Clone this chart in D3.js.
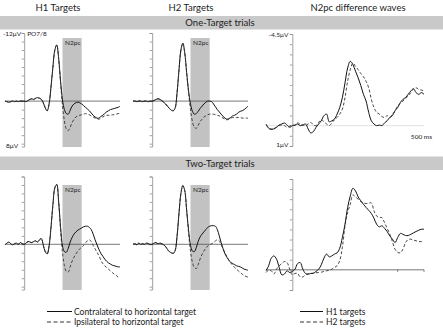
<!DOCTYPE html>
<html><head><meta charset="utf-8">
<script src="https://cdn.jsdelivr.net/npm/d3@7"></script>
<style>body{margin:0;background:#fff} svg{display:block}</style>
</head><body><svg id="c" width="443" height="333"></svg>
<script>
// ---------------- data ----------------
const columnTitles = ["H1 Targets", "H2 Targets", "N2pc difference waves"];
const rowTitles = ["One-Target trials", "Two-Target trials"];
const windowLabel = "N2pc";
const windowMs = [200, 300];
const timeDomain = [-100, 500];
// sample times (ms), 10 ms apart
const times = [-100,-90,-80,-70,-60,-50,-40,-30,-20,-10,0,10,20,30,40,50,60,70,80,90,100,110,120,130,140,150,160,170,180,190,200,210,220,230,240,250,260,270,280,290,300,310,320,330,340,350,360,370,380,390,400,410,420,430,440,450,460,470,480,490,500];

// ERP (µV, negative up) - One-Target trials
const h1OneContra = [0.0,0.1,0.2,0.1,0.0,0.1,0.0,0.1,0.0,0.0,0.0, 0.1,-0.1,-0.3,-0.4,-0.3,-0.5,-0.6,-0.5,-0.3,0.3, 1.2,1.7,0.5,-2.5,-6.0,-9.0,-9.9,-7.5,-3.5,-0.2, 1.5,2.2,2.3,1.6,0.9,0.5,0.3,0.2,0.3,0.5, 0.8,1.1,1.4,1.7,2.1,2.5,2.8,3.0,3.0,2.7, 2.5,2.2,1.9,1.7,1.5,1.4,1.3,1.2,1.1,0.9];
const h1OneIpsi   = [0.0,0.1,0.2,0.1,0.0,0.1,0.0,0.1,0.0,0.0,0.0, 0.1,-0.1,-0.3,-0.4,-0.3,-0.5,-0.6,-0.5,-0.3,0.3, 1.2,1.7,0.5,-2.5,-6.0,-9.0,-9.9,-7.5,-3.2,0.8, 3.5,4.9,5.2,4.6,3.8,3.2,2.8,2.6,2.5,2.4, 2.3,2.2,2.3,2.4,2.6,2.8,3.0,3.1,3.2,3.0, 2.8,2.6,2.5,2.5,2.5,2.4,2.4,2.3,2.2,2.2];
const h2OneContra = [0.0,0.0,0.1,0.0,0.0,0.1,0.0,0.0,0.1,0.0,0.0, -0.1,-0.3,-0.4,-0.3,-0.1,0.2,0.5,0.9,1.3,1.6, 1.7,1.2,-1.5,-5.5,-9.0,-10.2,-8.5,-5.0,-1.8,0.5, 1.8,2.3,2.2,1.8,1.3,0.9,0.5,0.2,0.0,0.0, 0.1,0.5,1.0,1.5,1.9,2.3,2.7,3.0,3.2,3.1, 2.9,2.6,2.5,2.3,2.0,1.8,1.7,1.5,1.2,0.9];
const h2OneIpsi   = [0.0,0.0,0.1,0.0,0.0,0.1,0.0,0.0,0.1,0.0,0.0, -0.1,-0.3,-0.4,-0.3,-0.1,0.2,0.5,0.9,1.3,1.6, 1.7,1.2,-1.5,-5.5,-9.0,-10.2,-8.5,-5.0,-1.5,1.5, 3.6,4.6,4.8,4.3,3.6,3.2,2.8,2.6,2.4,2.3, 2.3,2.3,2.4,2.5,2.6,2.8,3.0,3.2,3.3,3.2, 3.0,2.9,2.9,2.9,2.9,2.9,3.0,3.0,3.0,3.0];
// ERP - Two-Target trials
const h1TwoContra = [0.1,-0.2,-0.4,-0.1,0.1,-0.1,-0.2,0.0,-0.3,-0.1,0.0, -0.2,-0.5,-0.4,-0.3,-0.5,-0.6,-0.4,-0.8,-1.0,0.2, 1.3,1.7,0.3,-3.0,-7.0,-10.0,-10.6,-7.5,-3.0,0.3, 1.3,1.4,0.7,-0.4,-1.2,-1.8,-2.2,-2.5,-2.7,-2.9, -3.1,-3.2,-3.2,-3.0,-2.6,-1.8,-0.8,0.1,0.9,1.6, 2.1,2.6,3.0,3.3,3.5,3.7,3.8,3.9,4.0,4.0];
const h1TwoIpsi   = [0.1,-0.2,-0.4,-0.1,0.1,-0.1,-0.2,0.0,-0.3,-0.1,0.0, -0.2,-0.5,-0.4,-0.3,-0.5,-0.6,-0.4,-0.8,-1.0,0.2, 1.3,1.7,0.3,-3.0,-7.0,-10.0,-10.6,-7.5,-2.5,1.5, 3.8,4.8,4.9,4.0,3.0,2.3,1.7,1.2,0.8,0.5, 0.2,-0.3,-0.6,-0.8,-0.5,0.2,0.8,1.4,2.0,2.8, 3.4,3.8,4.1,4.4,4.7,5.0,5.3,5.5,5.8,5.9];
const h2TwoContra = [0.0,-0.1,0.1,-0.2,0.0,-0.1,0.0,-0.2,-0.1,0.0,0.0, -0.2,-0.3,-0.1,-0.2,-0.1,0.1,0.4,0.9,1.3,1.5, 1.6,1.1,-1.5,-5.5,-9.0,-10.4,-9.5,-6.0,-2.5,0.2, 1.2,1.3,0.6,-0.5,-1.3,-1.8,-2.2,-2.6,-3.0,-3.2, -3.3,-3.3,-3.2,-2.6,-1.5,-0.3,0.8,1.7,2.3,2.8, 3.2,3.4,3.6,3.8,3.9,4.0,4.2,4.4,4.5,4.6];
const h2TwoIpsi   = [0.0,-0.1,0.1,-0.2,0.0,-0.1,0.0,-0.2,-0.1,0.0,0.0, -0.2,-0.3,-0.1,-0.2,-0.1,0.1,0.4,0.9,1.3,1.5, 1.6,1.1,-1.5,-5.5,-9.0,-10.4,-9.5,-6.0,-2.0,1.2, 3.2,4.1,4.3,3.6,2.6,1.8,1.2,0.7,0.3,0.1, -0.1,-0.3,-0.6,-0.8,-0.6,0.1,0.8,1.5,2.2,2.8, 3.3,3.7,4.1,4.4,4.7,5.0,5.3,5.5,5.7,5.8];
// N2pc difference waves (µV)
const diffH1One = [-0.08,0.13,0.19,0.16,0.08,-0.03,-0.08,-0.13,-0.03,0.08,0.0, -0.03,-0.08,0.0,-0.03,-0.08,0.16,0.36,0.29,0.08,-0.08, -0.24,-0.49,-0.57,-0.19,-0.24,-0.32,-0.57,-0.89,-1.38,-2.1, -2.83,-3.16,-3.0,-2.67,-2.35,-1.97,-1.54,-1.21,-0.65,-0.24, -0.08,0.0,-0.03,0.0,-0.13,-0.24,-0.4,-0.49,-0.73,-0.89, -1.13,-1.29,-1.38,-1.54,-1.7,-1.81,-1.62,-1.54,-1.62,-1.54];
const diffH2One = [-0.03,0.08,0.16,0.13,0.08,0.0,-0.03,0.0,0.08,0.03,-0.03, 0.0,-0.13,-0.08,-0.03,0.0,-0.08,-0.16,-0.03,0.0,-0.16, -0.29,-0.19,-0.08,0.0,-0.13,-0.29,-0.4,-0.57,-0.81,-1.38, -2.18,-2.75,-3.07,-2.91,-2.75,-2.56,-2.4,-2.18,-1.86,-1.29, -0.89,-0.65,-0.57,-0.45,-0.4,-0.49,-0.4,-0.57,-0.73,-0.97, -1.1,-1.21,-1.33,-1.46,-1.62,-1.81,-1.86,-1.78,-1.75,-1.7];
const diffH1Two = [0.05,-0.2,-0.58,-0.69,-0.53,-0.12,0.25,0.21,0.05,0.13,0.08, -0.03,-0.31,-0.36,-0.03,0.18,0.21,0.18,0.17,0.08,-0.03, -0.25,-0.58,-0.78,-0.64,-0.69,-0.78,-0.84,-1.07,-1.6,-2.26, -3.09,-3.66,-4.04,-3.91,-3.61,-3.42,-3.25,-3.09,-2.95,-2.79, -2.56,-2.26,-2.13,-2.18,-2.06,-1.9,-1.68,-1.52,-1.35,-1.6, -1.8,-1.76,-1.7,-1.7,-1.76,-1.83,-1.9,-1.96,-2.01,-2.01];
const diffH2Two = [0.13,0.02,0.05,0.21,-0.03,-0.2,-0.31,-0.41,-0.36,-0.03,0.25, 0.18,0.18,0.35,0.35,0.25,0.21,0.18,0.17,0.15,0.13, 0.12,0.08,0.05,0.02,-0.03,-0.12,-0.2,-0.45,-1.11,-2.18, -2.84,-3.25,-3.71,-3.61,-3.5,-3.38,-3.32,-3.28,-3.3,-3.32, -2.92,-2.67,-2.59,-2.59,-2.34,-2.06,-1.77,-1.4,-1.02,-0.87, -0.84,-1.02,-1.35,-1.5,-1.52,-1.47,-1.44,-1.4,-1.4,-1.4];

const erpDomain = [-12, 8];
const erpTicks = [-12,-10.5,-9,-7.5,-6,-4.5,-3,-1.5,0,1.5,3,4.5,6,7.5];
const erpLabels = ["-12\u03bcV", "8\u03bcV"];
const diffDomain = [-4.5, 1];
const diffTicks = [-4.5,-4,-3.5,-3,-2.5,-2,-1.5,-1,-0.5,0,0.5,1];
const diffLabels = ["-4.5\u03bcV", "1\u03bcV"];
const electrodeLabel = "PO7/8";
const timeLabel = "500 ms";
const timeTicks = [400, 500];
const legendLeft = ["Contralateral to horizontal target", "Ipsilateral to horizontal target"];
const legendRight = ["H1 targets", "H2 targets"];

// ---------------- drawing ----------------
const svg = d3.select("#c");
const FONT = "Lato, 'Open Sans', sans-serif";
const INK = "#222";
const DASH = "3,2";

const erpCols = [[5, 120], [133, 248]];
const diffCol = [266, 424];
const rows = [
  { band: [16, 29.5], erp: [33, 146.5], box: [38, 147], diff: [34, 146], diffAxisColor: "#dcdcdc" },
  { band: [156.5, 170], erp: [176.5, 289.5], box: [185, 290], diff: [179, 290], diffAxisColor: "#555" }
];
const erpSets = [[h1OneContra, h1OneIpsi, h2OneContra, h2OneIpsi], [h1TwoContra, h1TwoIpsi, h2TwoContra, h2TwoIpsi]];
const diffSets = [[diffH1One, diffH2One], [diffH1Two, diffH2Two]];

// column titles
const titleX = [58, 191, 358];
columnTitles.forEach((t, i) => {
  svg.append("text").attr("x", titleX[i]).attr("y", 10.5).attr("text-anchor", "middle")
    .attr("font-family", FONT).attr("font-size", 9.5).attr("fill", INK).text(t);
});

function yAxis(g, x, y, ticks) {
  const ax = d3.axisLeft(y).tickValues(ticks).tickSize(2.5).tickFormat("");
  const a = g.append("g").attr("transform", `translate(${x},0)`).call(ax);
  a.select(".domain").attr("stroke", "#8a8a8a").attr("stroke-width", 0.8);
  a.selectAll(".tick line").attr("stroke", "#8a8a8a").attr("stroke-width", 0.8);
}

function wave(g, x, y, vals, dashed) {
  const line = d3.line().x((d, i) => x(times[i])).y(d => y(d)).curve(d3.curveCatmullRom.alpha(0.5));
  g.append("path").datum(vals).attr("d", line).attr("fill", "none")
    .attr("stroke", dashed ? "#333" : "#111").attr("stroke-width", dashed ? 0.9 : 1)
    .attr("stroke-dasharray", dashed ? DASH : null);
}

rows.forEach((r, ri) => {
  // band
  svg.append("rect").attr("x", 0).attr("y", r.band[0]).attr("width", 443).attr("height", r.band[1] - r.band[0]).attr("fill", "#c9c9c9");
  svg.append("text").attr("x", 220).attr("y", r.band[1] - 3.2).attr("text-anchor", "middle")
    .attr("font-family", FONT).attr("font-size", 9.5).attr("fill", INK).text(rowTitles[ri]);

  // ERP panels
  erpCols.forEach((c, ci) => {
    const g = svg.append("g");
    const x = d3.scaleLinear().domain(timeDomain).range(c);
    const y = d3.scaleLinear().domain(erpDomain).range(r.erp);
    g.append("rect").attr("x", x(windowMs[0])).attr("width", x(windowMs[1]) - x(windowMs[0]))
      .attr("y", r.box[0]).attr("height", r.box[1] - r.box[0]).attr("fill", "#c2c2c2");
    g.append("text").attr("x", x(windowMs[0]) + 2.5).attr("y", r.box[0] + 7).attr("font-family", FONT)
      .attr("font-size", 6.5).attr("fill", INK).text(windowLabel);
    yAxis(g, x(0), y, erpTicks);
    g.append("line").attr("x1", x(timeDomain[0])).attr("x2", x(timeDomain[1])).attr("y1", y(0)).attr("y2", y(0))
      .attr("stroke", "#555").attr("stroke-width", 0.8);
    const s = erpSets[ri];
    wave(g, x, y, s[ci * 2], false);
    wave(g, x, y, s[ci * 2 + 1], true);
    if (ri === 0 && ci === 0) {
      g.append("text").attr("x", x(0) - 3).attr("y", y(erpDomain[0]) + 3).attr("text-anchor", "end")
        .attr("font-family", FONT).attr("font-size", 6.5).attr("fill", INK).text(erpLabels[0]);
      g.append("text").attr("x", x(0) + 3).attr("y", y(erpDomain[0]) + 3)
        .attr("font-family", FONT).attr("font-size", 6.5).attr("fill", INK).text(electrodeLabel);
      g.append("text").attr("x", x(0) - 6).attr("y", y(erpDomain[1]) + 1).attr("text-anchor", "end")
        .attr("font-family", FONT).attr("font-size", 6.5).attr("fill", INK).text(erpLabels[1]);
    }
  });

  // Difference panel
  const g = svg.append("g");
  const x = d3.scaleLinear().domain(timeDomain).range(diffCol);
  const y = d3.scaleLinear().domain(diffDomain).range(r.diff);
  yAxis(g, x(0), y, diffTicks);
  g.append("line").attr("x1", x(timeDomain[0])).attr("x2", x(timeDomain[1])).attr("y1", y(0)).attr("y2", y(0))
    .attr("stroke", r.diffAxisColor).attr("stroke-width", 0.8);
  if (ri === 1) {
    timeTicks.forEach(t => g.append("line").attr("x1", x(t)).attr("x2", x(t)).attr("y1", y(0)).attr("y2", y(0) + 2)
      .attr("stroke", "#555").attr("stroke-width", 0.8));
  }
  wave(g, x, y, diffSets[ri][0], false);
  wave(g, x, y, diffSets[ri][1], true);
  if (ri === 0) {
    g.append("text").attr("x", x(0) - 4).attr("y", y(diffDomain[0]) + 2.5).attr("text-anchor", "end")
      .attr("font-family", FONT).attr("font-size", 6.5).attr("fill", INK).text(diffLabels[0]);
    g.append("text").attr("x", x(0) - 4).attr("y", y(diffDomain[1]) + 1).attr("text-anchor", "end")
      .attr("font-family", FONT).attr("font-size", 6.5).attr("fill", INK).text(diffLabels[1]);
    g.append("text").attr("x", x(timeDomain[1]) + 8).attr("y", y(0) + 13).attr("text-anchor", "end")
      .attr("font-family", FONT).attr("font-size", 6.5).attr("fill", INK).text(timeLabel);
  }
});

// legends
function legend(x0, x1, tx, labels) {
  labels.forEach((t, i) => {
    const yy = 311.5 + i * 10.5;
    svg.append("line").attr("x1", x0).attr("x2", x1).attr("y1", yy).attr("y2", yy)
      .attr("stroke", i ? "#333" : "#111").attr("stroke-width", 1).attr("stroke-dasharray", i ? "4,2.5" : null);
    svg.append("text").attr("x", tx).attr("y", yy + 3).attr("font-family", FONT).attr("font-size", 8.5)
      .attr("fill", INK).text(t);
  });
}
legend(47, 72, 74, legendLeft);
legend(300, 323, 326, legendRight);
</script></body></html>
